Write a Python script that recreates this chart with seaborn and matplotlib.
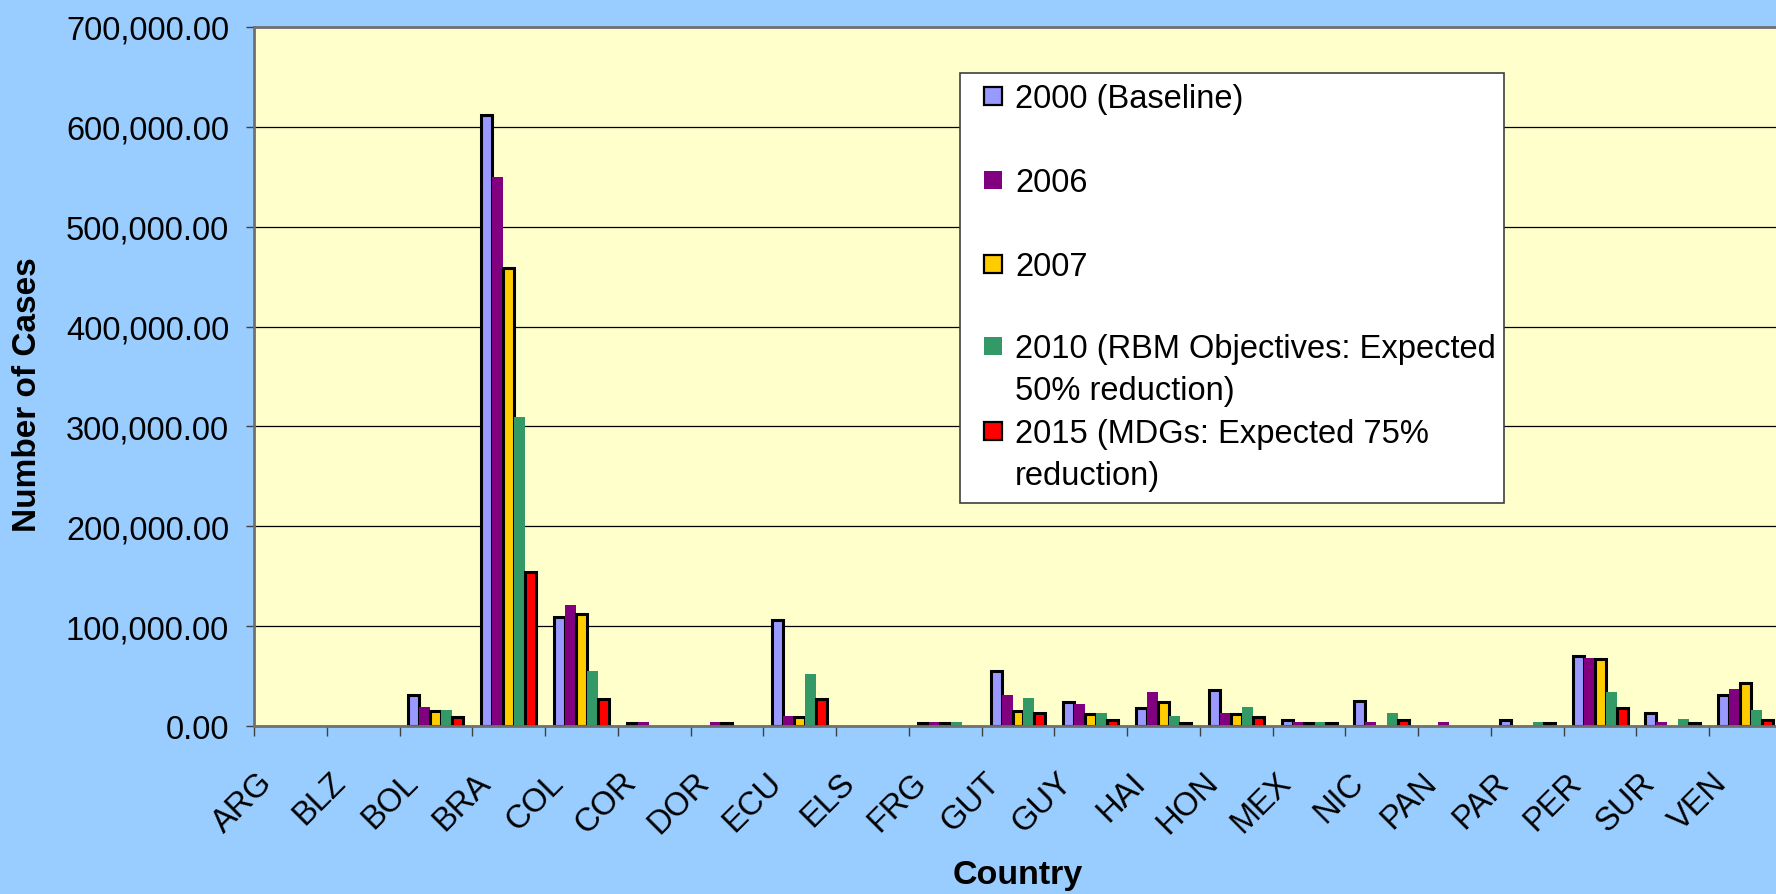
import numpy as np
import pandas as pd
import matplotlib
matplotlib.use("Agg")
import matplotlib.pyplot as plt
import matplotlib.transforms as mtransforms
from matplotlib.patches import Rectangle
import seaborn as sns

sns.set_theme(style="ticks")
plt.rcParams['font.family'] = ['Liberation Sans', 'DejaVu Sans']
plt.rcParams.update({'text.color': 'black', 'axes.labelcolor': 'black',
                     'xtick.color': 'black', 'ytick.color': 'black'})

# countries on the x axis
countries = ["ARG", "BLZ", "BOL", "BRA", "COL", "COR", "DOR", "ECU", "ELS", "FRG", "GUT",
             "GUY", "HAI", "HON", "MEX", "NIC", "PAN", "PAR", "PER", "SUR", "VEN"]

# number of cases per year
cases_2000 = [0, 0, 31000, 612000, 109000, 3500, 0, 106000, 0, 3500, 55000,
              24000, 18000, 36000, 6000, 25000, 0, 6000, 70000, 13000, 31000]
cases_2006 = [0, 0, 19000, 550000, 121000, 4000, 4000, 10000, 0, 4000, 31000,
              22000, 34000, 13000, 4000, 4000, 4000, 0, 68000, 4000, 37000]
cases_2007 = [0, 0, 15000, 459000, 112000, 0, 3500, 9000, 0, 3500, 15000,
              12000, 24000, 12000, 3500, 0, 0, 0, 67000, 0, 43000]
cases_2010 = [0, 0, 16000, 309000, 55000, 0, 0, 52000, 0, 4000, 28000,
              13000, 10000, 19000, 4000, 13000, 0, 4000, 34000, 7000, 16000]
cases_2015 = [0, 0, 9000, 154000, 27000, 0, 0, 27000, 0, 0, 13000,
              6000, 3500, 9000, 3500, 6000, 0, 3500, 18000, 3500, 6000]

series_names = ["2000", "2006", "2007", "2010", "2015"]
legend_labels = ["2000 (Baseline)", "2006", "2007",
                 "2010 (RBM Objectives: Expected\n50% reduction)",
                 "2015 (MDGs: Expected 75%\nreduction)"]
colors = ["#9999FF", "#800080", "#FFCC00", "#339966", "#FF0000"]
has_edge = [True, False, True, False, True]

all_values = [cases_2000, cases_2006, cases_2007, cases_2010, cases_2015]
rows = []
for name, vals in zip(series_names, all_values):
    for c, v in zip(countries, vals):
        rows.append({"Country": c, "Series": name, "Cases": v})
df = pd.DataFrame(rows)

W, H = 1776, 895
fig = plt.figure(figsize=(W / 100, H / 100), dpi=100)
fig.patch.set_facecolor("#99CCFF")

# plot area in pixels: left 254, top 28, right 1782, bottom 727
ax = fig.add_axes([254 / W, 1 - 727 / H, 1528 / W, 699 / H])
ax.set_facecolor("#FFFFCC")

sns.barplot(data=df, x="Country", y="Cases", hue="Series", order=countries,
            hue_order=series_names, palette=colors, width=0.755, saturation=1,
            errorbar=None, legend=False, ax=ax)

for i, cont in enumerate(ax.containers):
    for patch in cont:
        if has_edge[i] and patch.get_height() > 0:
            patch.set_edgecolor("black")
            patch.set_linewidth(2.2)
        else:
            patch.set_linewidth(0)

ax.set_xlim(-0.5, len(countries) - 0.5)
ax.set_ylim(0, 700000)
ax.set_yticks(np.arange(0, 700001, 100000))
ax.set_yticklabels(["{:,.2f}".format(v) for v in np.arange(0, 700001, 100000)], fontsize=23.5)
ax.yaxis.grid(True, color="black", linewidth=0.9)
ax.set_axisbelow(True)

# x ticks: labels at centres, tick marks at the boundaries
ax.set_xticks(range(len(countries)))
ax.set_xticklabels(countries, rotation=45, ha="right", fontsize=23.5)
ax.set_xticks(np.arange(-0.5, len(countries), 1), minor=True)
ax.tick_params(axis="x", which="major", length=0, pad=29)
ax.tick_params(axis="x", which="minor", length=7, width=1, color="#404040", direction="out")
ax.tick_params(axis="y", length=6, width=1, color="#404040", pad=12, direction="out")
shift = mtransforms.ScaledTranslation(-0.12, 0, fig.dpi_scale_trans)
for lab in ax.get_xticklabels():
    lab.set_transform(lab.get_transform() + shift)

for side in ["top", "left", "bottom", "right"]:
    ax.spines[side].set_color("#707070")
    ax.spines[side].set_linewidth(2)

ax.set_xlabel("Country", fontsize=24.5, fontweight="bold")
ax.set_ylabel("Number of Cases", fontsize=24, fontweight="bold")
ax.xaxis.label.set_va("center")
ax.yaxis.label.set_va("center")
ax.xaxis.set_label_coords(0.5, -0.213)
ax.yaxis.set_label_coords(-0.148, 0.475)


# legend drawn by hand so the marker sits on the first line of each label
def fx(px):
    return px / W


def fy(py):
    return 1 - py / H


fig.add_artist(Rectangle((fx(960), fy(504)), fx(1504) - fx(960), fy(74) - fy(504),
                         transform=fig.transFigure, facecolor="white",
                         edgecolor="#404040", linewidth=1.2))
text_tops = [84, 168, 252, 334, 419]
for i, lab in enumerate(legend_labels):
    cy = text_tops[i] + 13
    fig.add_artist(Rectangle((fx(984), fy(cy + 9)), fx(1002) - fx(984), fy(cy - 9) - fy(cy + 9),
                             transform=fig.transFigure, facecolor=colors[i],
                             edgecolor="black" if has_edge[i] else colors[i],
                             linewidth=1.6 if has_edge[i] else 0))
    fig.text(fx(1015), fy(text_tops[i]), lab, fontsize=23.5, va="top", ha="left",
             linespacing=1.47)

plt.savefig("out.png", dpi=100, facecolor=fig.get_facecolor())
